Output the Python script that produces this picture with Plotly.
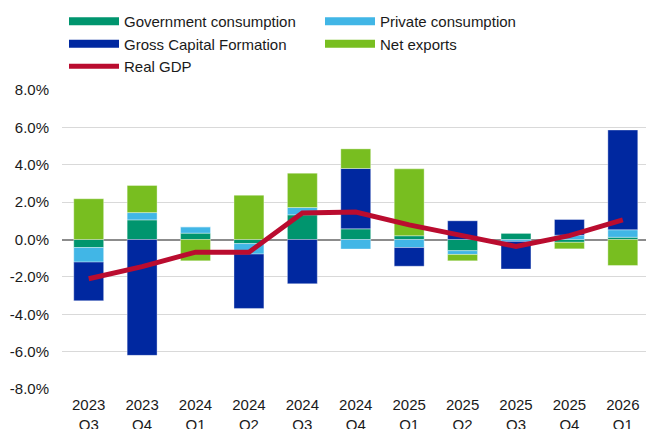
import plotly.graph_objects as go

quarters = ["2023<br>Q3", "2023<br>Q4", "2024<br>Q1", "2024<br>Q2", "2024<br>Q3", "2024<br>Q4",
            "2025<br>Q1", "2025<br>Q2", "2025<br>Q3", "2025<br>Q4", "2026<br>Q1"]
gov_cons = [-0.43, 1.05, 0.34, -0.22, 1.32, 0.57, 0.20, -0.60, 0.34, -0.15, 0.12]
priv_cons = [-0.78, 0.39, 0.34, -0.56, 0.39, -0.51, -0.43, -0.20, -0.10, 0.23, 0.40]
gcf = [-2.07, -6.20, 0.0, -2.91, -2.37, 3.23, -1.00, 1.00, -1.48, 0.84, 5.34]
net_exports = [2.18, 1.45, -1.14, 2.37, 1.84, 1.05, 3.58, -0.34, 0.0, -0.35, -1.39]
real_gdp = [-2.10, -1.45, -0.68, -0.68, 1.42, 1.47, 0.78, 0.22, -0.37, 0.21, 1.05]

ytick_vals = [-8, -6, -4, -2, 0, 2, 4, 6, 8]
ytick_text = ["-8.0%", "-6.0%", "-4.0%", "-2.0%", "0.0%", "2.0%", "4.0%", "6.0%", "8.0%"]

COL_GOV = "#00956E"
COL_PRIV = "#41B6E6"
COL_GCF = "#0028A0"
COL_NX = "#78BE20"
COL_GDP = "#BA0C2F"
FONT = "Liberation Sans, Arial, sans-serif"
TXT = "#1a1a1a"

fig = go.Figure()
bar_series = [
    ("Government consumption", gov_cons, COL_GOV),
    ("Private consumption", priv_cons, COL_PRIV),
    ("Gross Capital Formation", gcf, COL_GCF),
    ("Net exports", net_exports, COL_NX),
]
for name, vals, col in bar_series:
    fig.add_trace(go.Bar(x=quarters, y=vals, name=name, marker_color=col,
                         marker_line_width=0.6, marker_line_color="rgba(255,255,255,0.6)",
                         showlegend=False))
# legend proxies (wide line symbols like the reference)
for name, vals, col in bar_series:
    fig.add_trace(go.Scatter(x=[None], y=[None], mode="lines", name=name,
                             line=dict(color=col, width=8), showlegend=True))

fig.add_trace(go.Scatter(x=quarters, y=real_gdp, mode="lines", name="Real GDP",
                         line=dict(color=COL_GDP, width=5)))

fig.update_layout(
    width=646, height=429,
    margin=dict(l=62, r=0, t=90, b=40, autoexpand=False),
    paper_bgcolor="white", plot_bgcolor="white",
    barmode="relative", bargap=0.44,
    font=dict(family=FONT, size=15, color=TXT),
    showlegend=True,
    legend=dict(orientation="h", xref="container", yref="container",
                x=64 / 646, y=1 - 5 / 429, xanchor="left", yanchor="top",
                itemwidth=50, entrywidth=191, entrywidthmode="pixels",
                font=dict(family=FONT, size=15, color=TXT),
                bgcolor="rgba(0,0,0,0)", tracegroupgap=0),
)
fig.update_xaxes(type="category", range=[-0.5, 10.434], showgrid=False, zeroline=False,
                 showline=False, ticks="", ticklabelstandoff=5, automargin=False,
                 tickfont=dict(size=15, color=TXT))
fig.update_yaxes(range=[-8, 8], tickvals=ytick_vals, ticktext=ytick_text,
                 showgrid=True, gridcolor="#d9d9d9", gridwidth=1,
                 zeroline=True, zerolinecolor="#8c8c8c", zerolinewidth=2,
                 showline=False, ticks="", ticklabelstandoff=12, automargin=False,
                 tickfont=dict(size=15, color=TXT))

fig.write_html("out.html")
